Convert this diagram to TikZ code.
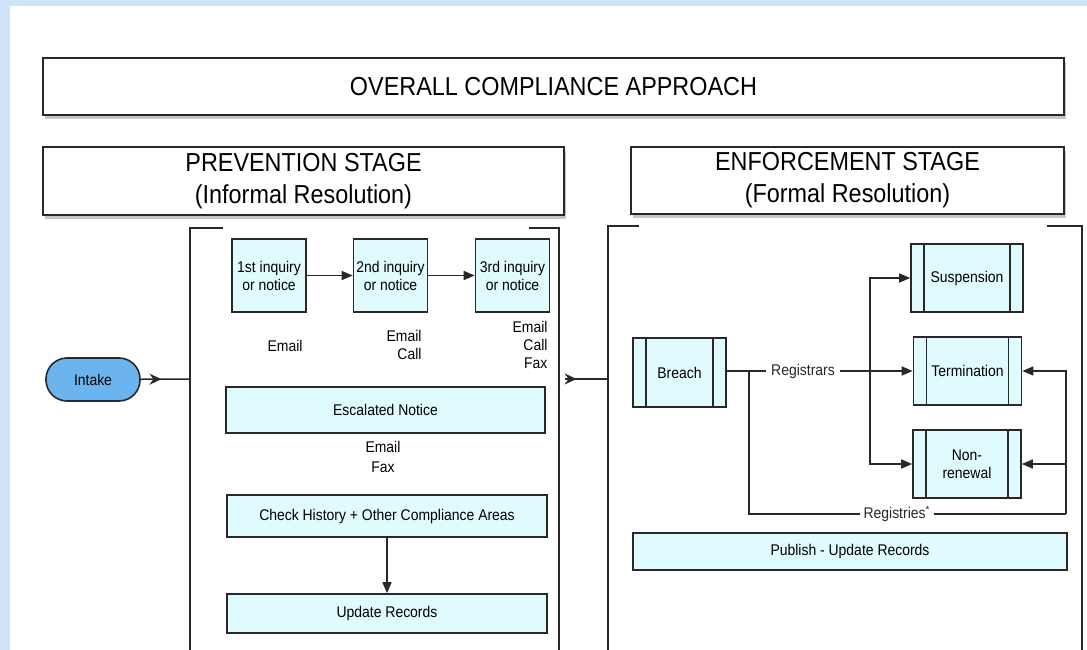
\documentclass[tikz,border=0pt]{standalone}
\usepackage{fontspec}
\setmainfont[FakeStretch=0.9]{Liberation Sans}
\usetikzlibrary{arrows.meta,shapes,calc,decorations.markings,shadows}
\definecolor{bgblue}{RGB}{207,228,249}
\definecolor{boxcyan}{RGB}{224,251,253}
\definecolor{intakeblue}{RGB}{108,180,238}
\definecolor{linegray}{RGB}{40,40,40}

\begin{document}
\begin{tikzpicture}[x=1pt,y=-1pt,
	txt/.style={font=\fontsize{15.5}{18}\selectfont},
	stagebox/.style={draw=linegray,line width=1.6pt,fill=white,align=center,font=\fontsize{26}{32}\selectfont,drop shadow={shadow xshift=1.5pt,shadow yshift=-4pt,opacity=0.45}},
	stepbox/.style={draw=linegray,line width=1.6pt,fill=boxcyan,txt,align=center,inner sep=2pt,minimum width=74pt,minimum height=73pt},
	bar/.style={draw=linegray,line width=1.6pt,fill=boxcyan,txt,minimum width=320pt},
	proc/.style={draw=linegray,line width=1.6pt,fill=boxcyan,txt,align=center,minimum height=68pt,
		path picture={\draw[linegray,line width=1.6pt] ([xshift=13pt]path picture bounding box.north west) -- ([xshift=13pt]path picture bounding box.south west) ([xshift=-13pt]path picture bounding box.north east) -- ([xshift=-13pt]path picture bounding box.south east);}},
	wire/.style={linegray,line width=1.5pt},
	arr/.style={-{Triangle[length=11pt,width=9pt]}},
	midtip/.style={postaction={decorate},decoration={markings,mark=at position #1 with {\arrow{Stealth[length=12pt,width=11pt,inset=4pt]}}}}
	]
	\useasboundingbox (0,0) rectangle (1087,650);
	\fill[bgblue] (0,0) rectangle (1087,650);
	\fill[white] (10,6) rectangle (1087,650);

	\node[stagebox,minimum width=1021pt,minimum height=57pt] (overall) at (553.5,86.5) {OVERALL COMPLIANCE APPROACH};
	\node[stagebox,minimum width=521pt,minimum height=68pt] (prev) at (303.5,181) {PREVENTION STAGE\\(Informal Resolution)};
	\node[stagebox,minimum width=433pt,minimum height=67pt] (enf) at (847.5,180.5) {ENFORCEMENT STAGE\\(Formal Resolution)};

	\draw[wire] (223,228) -- (190,228) -- (190,650);
	\draw[wire] (529,228) -- (559,228) -- (559,650);
	\draw[wire] (639,226) -- (608,226) -- (608,650);
	\draw[wire] (1047,226) -- (1082,226) -- (1082,650);

	\node[draw=linegray,line width=1.6pt,fill=intakeblue,rounded corners=21pt,minimum width=94pt,minimum height=43pt,txt] (intake) at (93,379.5) {Intake};
	\coordinate (previn) at (190,379);
	\coordinate (prevout) at (565,379);
	\coordinate (enfin) at (608,379);
	\draw[wire,midtip=0.42] (intake) -- (previn);
	\draw[wire,midtip=0.27] (prevout) -- (enfin);

	\node[stepbox] (inq1) at (269,275.5) {1st inquiry\\or notice};
	\node[stepbox] (inq2) at (390.5,275.5) {2nd inquiry\\or notice};
	\node[stepbox] (inq3) at (512.5,275.5) {3rd inquiry\\or notice};
	\draw[wire,arr] (inq1) -- (inq2);
	\draw[wire,arr] (inq2) -- (inq3);
	\node[txt,anchor=east,align=right] (via1) at (306,346) {Email};
	\node[txt,anchor=east,align=right] (via2) at (425,345) {Email\\Call};
	\node[txt,anchor=east,align=right] (via3) at (551,345) {Email\\Call\\Fax};

	\node[bar,minimum width=319pt,minimum height=46pt] (esc) at (385.5,410) {Escalated Notice};
	\node[txt,align=center] (via4) at (383,457) {Email\\[2pt]Fax};
	\node[bar,minimum height=42pt] (hist) at (387,516) {Check History + Other Compliance Areas};
	\node[bar,minimum height=39pt] (upd) at (387,613.5) {Update Records};
	\draw[wire,arr] (hist) -- (upd);

	\node[proc,minimum width=93pt,minimum height=69pt] (breach) at (679.5,372.5) {Breach};
	\node[proc,minimum width=112pt] (susp) at (967,278) {Suspension};
	\node[proc,minimum width=108pt] (term) at (967.5,371) {Termination};
	\node[proc,minimum width=108pt] (nonren) at (967,464) {Non-\\renewal};
	\node[bar,minimum width=434pt,minimum height=37pt] (pub) at (850,551.5) {Publish - Update Records};

	\draw[wire,arr] (breach.east |- term) -- node[pos=0.41,fill=white,txt,inner sep=5pt] {Registrars} (term);
	\coordinate (fork) at (870,371);
	\draw[wire,arr] (fork) |- (susp);
	\draw[wire,arr] (fork) |- (nonren);
	\coordinate (branch) at (749,371);
	\coordinate (loop) at (1066,514);
	\draw[wire] (branch) |- node[pos=0.733,fill=white,txt,inner sep=4pt] {Registries\textsuperscript{*}} (loop);
	\draw[wire,arr] (loop) |- (term);
	\draw[wire,arr] (loop) |- (nonren);
\end{tikzpicture}
\end{document}
